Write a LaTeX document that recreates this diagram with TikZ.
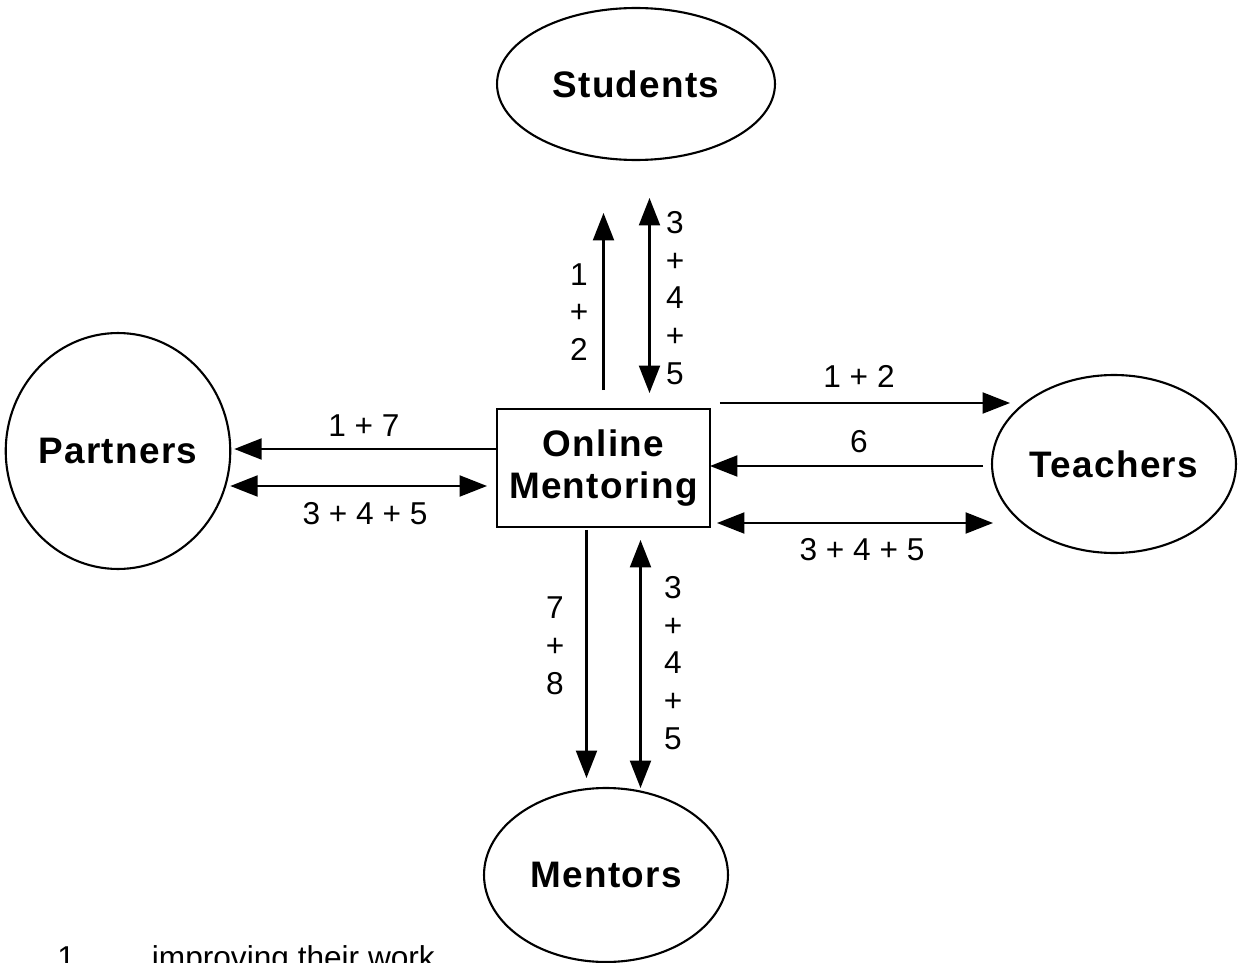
\documentclass[tikz,border=0pt]{standalone}
\usepackage{fontspec}
\setmainfont{Liberation Sans}
\newfontfamily\spacedfont[LetterSpace=3.5]{Liberation Sans}
\usetikzlibrary{shapes.geometric, arrows.meta, calc}
\tikzset{
party/.style={draw, ellipse, line width=1.2pt, inner sep=0pt, outer sep=0pt, font=\spacedfont\bfseries\fontsize{21}{24}\selectfont},
hub/.style={draw, rectangle, line width=1.2pt, inner sep=0pt, outer sep=0pt, align=center, minimum width=4.26cm, minimum height=2.36cm, font=\spacedfont\bfseries\fontsize{21}{23.8}\selectfont},
arr/.style={line width=1.3pt, -{Triangle[length=0.55cm, width=0.42cm]}},
biarr/.style={line width=1.3pt, {Triangle[length=0.55cm, width=0.42cm]}-{Triangle[length=0.55cm, width=0.42cm]}},
lbl/.style={inner sep=0pt, align=center, font=\fontsize{18}{21.5}\selectfont},
}

\begin{document}
\begin{tikzpicture}[x=0.02cm, y=-0.02cm]
    \useasboundingbox (0,0) rectangle (1238,963);

    %centre box
    \node[hub] (om) at (603.5,468) {Online\\Mentoring};

    %ellipses round it
    \node[party, minimum width=5.56cm, minimum height=3.04cm] (students) at (636,84) {Students\hspace{0.3cm}};
    \node[party, minimum width=4.24cm, minimum height=4.72cm] (partners) at (118,451) {Partners};
    \node[party, minimum width=4.88cm, minimum height=3.56cm] (teachers) at (1114,464) {Teachers};
    \node[party, minimum width=4.88cm, minimum height=3.48cm] (mentors) at (606,875) {Mentors};

    %students
    \draw[arr]   ($(om.north)+(0,-19)$) -- ($(om.north |- students.south)+(0,53)$);
    \draw[biarr] ($(om.north)+(46,-16)$) -- ($(om.north |- students.south)+(46,38)$);
    \node[lbl] (s12)  at (579,312) {1\\+\\2};
    \node[lbl] (s345) at (675,298) {3\\+\\4\\+\\5};

    %partners
    \draw[arr]   ($(om.west)+(0,-19)$) -- ($(om.west -| partners.east)+(4,-19)$);
    \draw[biarr] ($(om.west -| partners.east)+(0,18)$) -- ($(om.west)+(-10,18)$);
    \node[lbl] (p17)  at (364,426) {1 + 7};
    \node[lbl] (p345) at (365,514) {3 + 4 + 5};

    %teachers
    \draw[arr]   ($(om.east)+(10,-65)$) -- ($(om.east -| teachers.west)+(18,-65)$);
    \draw[arr]   ($(om.east -| teachers.west)+(-9,-2)$) -- ($(om.east)+(0,-2)$);
    \draw[biarr] ($(om.east)+(7,55)$) -- ($(om.east -| teachers.west)+(1,55)$);
    \node[lbl] (t12)  at (859,376) {1 + 2};
    \node[lbl] (t6)   at (859,442) {6};
    \node[lbl] (t345) at (862,550) {3 + 4 + 5};

    %mentors
    \draw[arr]   ($(om.south)+(-17,3)$) -- ($(om.south |- mentors.north)+(-17,-10)$);
    \draw[biarr] ($(om.south)+(37,13)$) -- ($(om.south |- mentors.north)+(37,0)$);
    \node[lbl] (m78)  at (555,646) {7\\+\\8};
    \node[lbl] (m345) at (673,663) {3\\+\\4\\+\\5};

    %key, cut off at the bottom
    \node[lbl, anchor=base west] (key1) at (57,968) {1\hspace{1.54cm}improving their work};

\end{tikzpicture}
\end{document}
